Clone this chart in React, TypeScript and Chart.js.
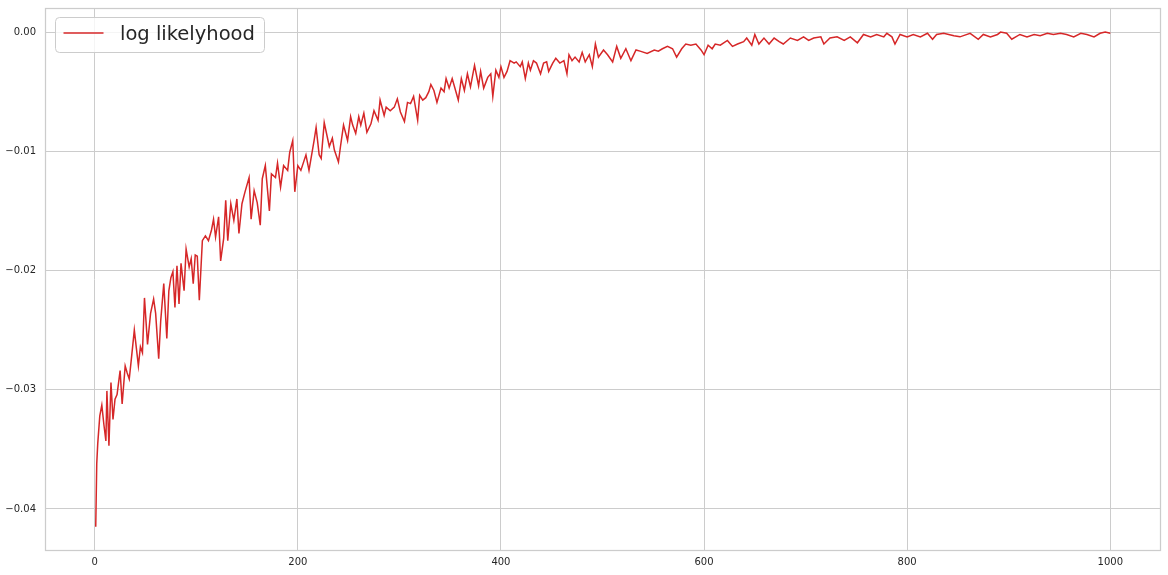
import React, { useEffect, useRef } from "react";
import { Chart, registerables } from "chart.js";

Chart.register(...registerables);

const seriesLabel = "log likelyhood";

const iterations = [
  1, 2, 3, 5, 7, 9, 11, 12, 14, 16, 18, 20, 22, 25, 27, 30, 32, 34, 36, 39,
  43, 45, 47, 49, 52, 55, 58, 60, 63, 65, 68, 71, 73, 75, 77, 79, 81, 83, 85, 88,
  90, 93, 95, 97, 99, 101, 103, 106, 109, 112, 115, 117, 119, 122, 124, 127, 129, 131, 134, 137,
  140, 142, 145, 148, 152, 154, 157, 160, 163, 165, 168, 172, 174, 178, 180, 183, 186, 190, 192, 195,
  197, 200, 203, 208, 211, 216, 218, 221, 223, 226, 229, 231, 234, 236, 240, 242, 245, 249, 252, 254,
  257, 260, 262, 265, 268, 272, 275, 279, 281, 285, 287, 291, 295, 298, 301, 305, 308, 311, 314, 318,
  320, 323, 326, 329, 331, 334, 337, 341, 344, 346, 349, 352, 358, 361, 364, 367, 370, 374, 378, 380,
  383, 387, 390, 392, 395, 398, 400, 403, 406, 409, 413, 415, 419, 421, 424, 427, 429, 432, 435, 439,
  442, 445, 447, 451, 454, 458, 462, 465, 467, 470, 473, 477, 480, 483, 487, 490, 493, 496, 501, 505,
  510, 514, 518, 523, 528, 533, 537, 544, 551, 555, 559, 564, 569, 573, 578, 582, 587, 592, 597, 600,
  604, 608, 611, 616, 623, 628, 633, 639, 642, 647, 650, 654, 659, 664, 669, 674, 678, 685, 692, 698,
  703, 708, 715, 718, 724, 731, 738, 744, 751, 757, 764, 770, 777, 780, 785, 788, 793, 800, 806, 813,
  820, 825, 829, 836, 841, 846, 852, 862, 870, 875, 882, 889, 892, 898, 903, 911, 918, 925, 931, 938,
  944, 951, 957, 964, 971, 977, 984, 990, 995, 1000,
];

const logLikelihood = [
  -0.0415, -0.0362, -0.0345, -0.0322, -0.0313, -0.0329, -0.0343, -0.0301, -0.0347, -0.0294,
  -0.0325, -0.0308, -0.0304, -0.0284, -0.0312, -0.0280, -0.0286, -0.0291, -0.0275, -0.0250,
  -0.0280, -0.0264, -0.0269, -0.0223, -0.0262, -0.0236, -0.0224, -0.0236, -0.0274, -0.0242,
  -0.0211, -0.0257, -0.0217, -0.0206, -0.0201, -0.0231, -0.0196, -0.0228, -0.0194, -0.0217,
  -0.0182, -0.0197, -0.0190, -0.0211, -0.0187, -0.0188, -0.0225, -0.0175, -0.0171, -0.0175,
  -0.0166, -0.0157, -0.0172, -0.0155, -0.0192, -0.0173, -0.0141, -0.0175, -0.0144, -0.0158,
  -0.0140, -0.0169, -0.0144, -0.0134, -0.0122, -0.0157, -0.0133, -0.0143, -0.0162, -0.0123,
  -0.0112, -0.0150, -0.0119, -0.0122, -0.0110, -0.0130, -0.0112, -0.0116, -0.0101, -0.0091,
  -0.0134, -0.0112, -0.0116, -0.0103, -0.0116, -0.0091, -0.0080, -0.0103, -0.0106, -0.0076,
  -0.0088, -0.0096, -0.0089, -0.0099, -0.0109, -0.0096, -0.0078, -0.0091, -0.0071, -0.0078,
  -0.0085, -0.0071, -0.0078, -0.0068, -0.0084, -0.0077, -0.0066, -0.0074, -0.0057, -0.0070,
  -0.0063, -0.0066, -0.0063, -0.0056, -0.0067, -0.0075, -0.0059, -0.0060, -0.0054, -0.0074,
  -0.0053, -0.0057, -0.0055, -0.0050, -0.0044, -0.0049, -0.0059, -0.0047, -0.0050, -0.0039,
  -0.0047, -0.0039, -0.0057, -0.0039, -0.0049, -0.0035, -0.0046, -0.0028, -0.0045, -0.0033,
  -0.0047, -0.0038, -0.0035, -0.0054, -0.0032, -0.0038, -0.0029, -0.0038, -0.0033, -0.0024,
  -0.0026, -0.0025, -0.0029, -0.0025, -0.0039, -0.0026, -0.0032, -0.0024, -0.0026, -0.0035,
  -0.0026, -0.0025, -0.0033, -0.0026, -0.0022, -0.0026, -0.0024, -0.0035, -0.0019, -0.0024,
  -0.0021, -0.0025, -0.0017, -0.0025, -0.0019, -0.0029, -0.0010, -0.0021, -0.0015, -0.0019,
  -0.0025, -0.0012, -0.0022, -0.0014, -0.0024, -0.0015, -0.0016, -0.0018, -0.0015, -0.0016,
  -0.0014, -0.0012, -0.0014, -0.0021, -0.0014, -0.0010, -0.0011, -0.0010, -0.0015, -0.0019,
  -0.0011, -0.0014, -0.0010, -0.0011, -0.0007, -0.0012, -0.0010, -0.0008, -0.0005, -0.0011,
  -0.0002, -0.0010, -0.0005, -0.0010, -0.0005, -0.0008, -0.0010, -0.0005, -0.0007, -0.0004,
  -0.0007, -0.0005, -0.0004, -0.0010, -0.0005, -0.0004, -0.0007, -0.0004, -0.0009, -0.0002,
  -0.0004, -0.0002, -0.0004, -0.0001, -0.0004, -0.0010, -0.0002, -0.0004, -0.0002, -0.0004,
  -0.0001, -0.0006, -0.0002, -0.0001, -0.0002, -0.0003, -0.0004, -0.0001, -0.0006, -0.0002,
  -0.0004, -0.0002, 0.0, -0.0001, -0.0006, -0.0002, -0.0004, -0.0002, -0.0003, -0.0001,
  -0.0002, -0.0001, -0.0002, -0.0004, -0.0001, -0.0002, -0.0004, -0.0001, 0.0, -0.0001,
];

const xTicks = [0, 200, 400, 600, 800, 1000];
const xTickLabels = ["0", "200", "400", "600", "800", "1000"];
const yTicks = [-0.04, -0.03, -0.02, -0.01, 0.0];
const yTickLabels = ["\u22120.04", "\u22120.03", "\u22120.02", "\u22120.01", "0.00"];

const LINE_COLOR = "#d62728";
const GRID_COLOR = "#cccccc";
const TEXT_COLOR = "#262626";
const FONT = "'DejaVu Sans', sans-serif";

const framePlugin = {
  id: "frameAndLegend",
  afterDatasetsDraw(chart: any) {
    const { ctx, chartArea } = chart;
    ctx.save();
    ctx.strokeStyle = GRID_COLOR;
    ctx.lineWidth = 1.25;
    ctx.strokeRect(
      chartArea.left + 0.5,
      chartArea.top + 0.5,
      chartArea.right - chartArea.left - 1,
      chartArea.bottom - chartArea.top - 1
    );
    ctx.restore();
  },
  afterDraw(chart: any) {
    const { ctx, chartArea } = chart;
    const x0 = chartArea.left + 10.5;
    const y0 = chartArea.top + 9.5;
    const w = 209;
    const h = 35;
    const r = 4;
    ctx.save();
    ctx.beginPath();
    ctx.moveTo(x0 + r, y0);
    ctx.lineTo(x0 + w - r, y0);
    ctx.arcTo(x0 + w, y0, x0 + w, y0 + r, r);
    ctx.lineTo(x0 + w, y0 + h - r);
    ctx.arcTo(x0 + w, y0 + h, x0 + w - r, y0 + h, r);
    ctx.lineTo(x0 + r, y0 + h);
    ctx.arcTo(x0, y0 + h, x0, y0 + h - r, r);
    ctx.lineTo(x0, y0 + r);
    ctx.arcTo(x0, y0, x0 + r, y0, r);
    ctx.closePath();
    ctx.fillStyle = "rgba(255,255,255,0.8)";
    ctx.fill();
    ctx.strokeStyle = GRID_COLOR;
    ctx.lineWidth = 1;
    ctx.stroke();

    const midY = y0 + 15.5;
    ctx.beginPath();
    ctx.moveTo(x0 + 8, midY);
    ctx.lineTo(x0 + 48, midY);
    ctx.strokeStyle = LINE_COLOR;
    ctx.lineWidth = 1.5;
    ctx.stroke();

    ctx.fillStyle = TEXT_COLOR;
    ctx.font = `19.5px ${FONT}`;
    ctx.textBaseline = "alphabetic";
    ctx.textAlign = "left";
    ctx.fillText(seriesLabel, x0 + 64.5, y0 + 22.5);
    ctx.restore();
  },
};

function zeroPadding(scale: any) {
  scale.paddingTop = 0;
  scale.paddingBottom = 0;
  scale.paddingLeft = 0;
  scale.paddingRight = 0;
}

export default function App() {
  const canvasRef = useRef<HTMLCanvasElement | null>(null);

  useEffect(() => {
    const canvas = canvasRef.current;
    if (!canvas) return;
    const points = iterations.map((x, i) => ({ x, y: logLikelihood[i] }));
    const chart = new Chart(canvas, {
      type: "line",
      data: {
        datasets: [
          {
            label: seriesLabel,
            data: points,
            borderColor: LINE_COLOR,
            backgroundColor: LINE_COLOR,
            borderWidth: 1.5,
            pointRadius: 0,
            tension: 0,
            fill: false,
          },
        ],
      },
      options: {
        animation: false,
        responsive: false,
        devicePixelRatio: 1,
        layout: { padding: { left: 0, top: 8, right: 7, bottom: 0 } },
        plugins: {
          legend: { display: false },
          tooltip: { enabled: false },
        },
        scales: {
          x: {
            type: "linear",
            min: -48.95,
            max: 1049.95,
            afterBuildTicks: (scale: any) => {
              scale.ticks = xTicks.map((v) => ({ value: v }));
            },
            afterFit: (scale: any) => {
              scale.height = 24;
              zeroPadding(scale);
            },
            ticks: {
              color: TEXT_COLOR,
              font: { family: FONT, size: 10 },
              padding: 5,
              maxRotation: 0,
              autoSkip: false,
              callback: (v: any) => {
                const i = xTicks.indexOf(Number(v));
                return i >= 0 ? xTickLabels[i] : "";
              },
            },
            grid: { color: GRID_COLOR, lineWidth: 1, drawTicks: false },
            border: { display: false },
          },
          y: {
            type: "linear",
            min: -0.04353,
            max: 0.00202,
            afterBuildTicks: (scale: any) => {
              scale.ticks = yTicks.map((v) => ({ value: v }));
            },
            afterFit: (scale: any) => {
              scale.width = 45;
              zeroPadding(scale);
            },
            ticks: {
              color: TEXT_COLOR,
              font: { family: FONT, size: 10 },
              padding: 9,
              autoSkip: false,
              callback: (v: any) => {
                const i = yTicks.findIndex((t) => Math.abs(t - Number(v)) < 1e-9);
                return i >= 0 ? yTickLabels[i] : "";
              },
            },
            grid: { color: GRID_COLOR, lineWidth: 1, drawTicks: false },
            border: { display: false },
          },
        },
      },
      plugins: [framePlugin],
    });
    return () => chart.destroy();
  }, []);

  return (
    <div style={{ position: "fixed", left: 0, top: 0, width: 1168, height: 575, background: "#ffffff" }}>
      <canvas ref={canvasRef} width={1168} height={575} style={{ width: 1168, height: 575, display: "block" }} />
    </div>
  );
}
